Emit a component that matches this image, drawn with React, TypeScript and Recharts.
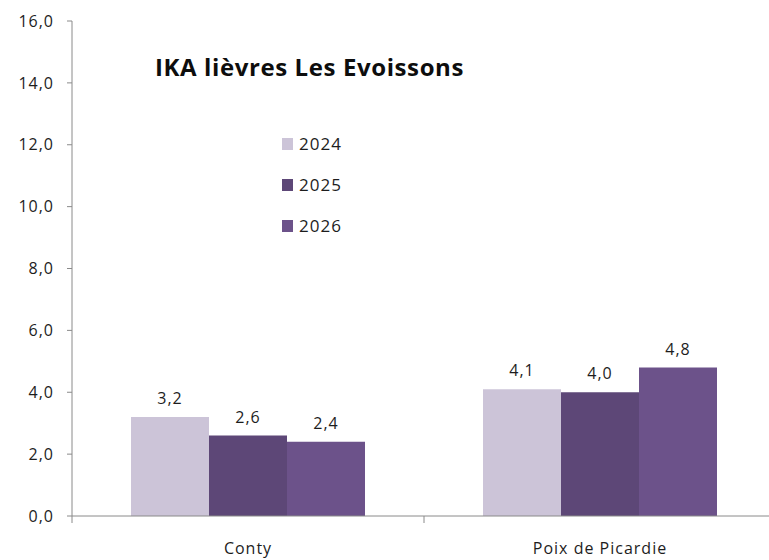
import React from 'react'
import { BarChart, Bar, XAxis, YAxis, LabelList } from 'recharts'

const sites = ['Conty', 'Poix de Picardie']
const years = ['2024', '2025', '2026']
const ika2024 = [3.2, 4.1]
const ika2025 = [2.6, 4.0]
const ika2026 = [2.4, 4.8]
const yTicks = [0, 2, 4, 6, 8, 10, 12, 14, 16]

const colors = ['#CCC4D8', '#5D4777', '#6C528A']

const data = sites.map((site, i) => ({
  site,
  '2024': ika2024[i],
  '2025': ika2025[i],
  '2026': ika2026[i],
}))

const W = 790
const H = 560
const M = { top: 21, right: 14, bottom: 0, left: 0 }
const Y_W = 72
const plotW = W - M.left - M.right - Y_W
const bandW = plotW / sites.length

const font = '"Open Sans", sans-serif'
const ink = '#1d1d1d'
const axisGrey = '#8a8a8a'

const fmt = (v: number) => v.toFixed(1).replace('.', ',')

function SiteTick(props: any) {
  const { x, y, payload } = props
  const left = x - bandW / 2
  return (
    <g>
      <line x1={left} y1={y} x2={left} y2={y + 7} stroke={axisGrey} />
      <text x={x} y={y + 38} textAnchor="middle" fontSize={16} letterSpacing={1} fontFamily={font} fill={ink}>
        {payload.value}
      </text>
    </g>
  )
}

function YearLegend() {
  return (
    <div
      style={{
        position: 'absolute',
        left: 282,
        top: 123,
        fontFamily: font,
        fontSize: 17,
        letterSpacing: 1,
        color: ink,
        zIndex: 2,
      }}
    >
      {years.map((y, i) => (
        <div key={y} style={{ display: 'flex', alignItems: 'center', height: 41 }}>
          <span style={{ width: 11, height: 12, background: colors[i], marginRight: 6, display: 'inline-block' }} />
          <span>{y}</span>
        </div>
      ))}
    </div>
  )
}

export default function App() {
  return (
    <div
      style={{
        position: 'fixed',
        left: 0,
        top: 0,
        width: 769,
        height: 560,
        overflow: 'hidden',
        background: '#fff',
      }}
    >
      <div
        style={{
          position: 'absolute',
          left: 155,
          top: 50,
          fontFamily: font,
          fontWeight: 700,
          fontSize: 24,
          letterSpacing: 0.6,
          color: '#0d0d0d',
          zIndex: 2,
          whiteSpace: 'nowrap',
        }}
      >
        IKA lièvres Les Evoissons
      </div>
      <YearLegend />
      <BarChart width={W} height={H} data={data} margin={M} barGap={0} barCategoryGap={59}>
        <XAxis
          dataKey="site"
          height={44}
          axisLine={{ stroke: axisGrey }}
          tickLine={false}
          tickSize={0}
          tickMargin={0}
          tick={<SiteTick />}
          interval={0}
        />
        <YAxis
          width={Y_W}
          domain={[0, 16]}
          ticks={yTicks}
          interval={0}
          axisLine={{ stroke: axisGrey }}
          tickLine={{ stroke: axisGrey }}
          tickSize={5}
          tickMargin={13}
          tickFormatter={fmt}
          tick={{ fontSize: 16, fontFamily: font, fill: ink, letterSpacing: 1 }}
        />
        {years.map((y, i) => (
          <Bar key={y} dataKey={y} fill={colors[i]} isAnimationActive={false}>
            <LabelList
              dataKey={y}
              position="top"
              offset={13}
              formatter={(v: any) => fmt(Number(v))}
              style={{ fontSize: 16, fontFamily: font, fill: ink, letterSpacing: 1 }}
            />
          </Bar>
        ))}
      </BarChart>
    </div>
  )
}
